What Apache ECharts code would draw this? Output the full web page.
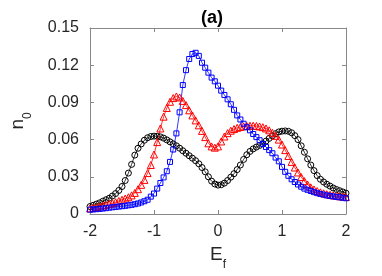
<!DOCTYPE html>
<html>
<head>
<meta charset="utf-8">
<script src="https://cdn.jsdelivr.net/npm/echarts@6/dist/echarts.min.js"></script>
<style>html,body{margin:0;padding:0;background:#fff}#c{width:382px;height:276px}</style>
</head>
<body>
<div id="c"></div>
<script>
const energies = [-2.00,-1.95,-1.90,-1.85,-1.80,-1.75,-1.70,-1.65,-1.60,-1.55,-1.50,-1.45,-1.40,-1.35,-1.30,-1.25,-1.20,-1.15,-1.10,-1.05,-1.00,-0.95,-0.90,-0.85,-0.80,-0.75,-0.70,-0.65,-0.60,-0.55,-0.50,-0.45,-0.40,-0.35,-0.30,-0.25,-0.20,-0.15,-0.10,-0.05,0.00,0.05,0.10,0.15,0.20,0.25,0.30,0.35,0.40,0.45,0.50,0.55,0.60,0.65,0.70,0.75,0.80,0.85,0.90,0.95,1.00,1.05,1.10,1.15,1.20,1.25,1.30,1.35,1.40,1.45,1.50,1.55,1.60,1.65,1.70,1.75,1.80,1.85,1.90,1.95,2.00];
const blackCircles = [0.0060,0.0070,0.0080,0.0090,0.0103,0.0115,0.0127,0.0145,0.0165,0.0190,0.0222,0.0270,0.0330,0.0400,0.0475,0.0530,0.0565,0.0595,0.0615,0.0625,0.0628,0.0627,0.0622,0.0612,0.0598,0.0582,0.0566,0.0550,0.0531,0.0510,0.0490,0.0470,0.0450,0.0430,0.0405,0.0375,0.0340,0.0300,0.0265,0.0242,0.0233,0.0236,0.0249,0.0270,0.0297,0.0325,0.0358,0.0395,0.0440,0.0478,0.0505,0.0525,0.0540,0.0553,0.0567,0.0588,0.0610,0.0630,0.0648,0.0662,0.0668,0.0670,0.0667,0.0655,0.0632,0.0600,0.0550,0.0498,0.0445,0.0395,0.0350,0.0310,0.0280,0.0258,0.0240,0.0225,0.0210,0.0198,0.0188,0.0178,0.0168];
const redTriangles = [0.0045,0.0050,0.0056,0.0062,0.0068,0.0073,0.0080,0.0087,0.0095,0.0105,0.0115,0.0125,0.0135,0.0150,0.0170,0.0200,0.0235,0.0275,0.0330,0.0395,0.0480,0.0580,0.0690,0.0785,0.0855,0.0905,0.0935,0.0948,0.0940,0.0912,0.0878,0.0836,0.0795,0.0755,0.0715,0.0670,0.0620,0.0570,0.0545,0.0535,0.0545,0.0585,0.0625,0.0652,0.0672,0.0685,0.0695,0.0702,0.0707,0.0710,0.0712,0.0712,0.0710,0.0706,0.0700,0.0690,0.0675,0.0655,0.0630,0.0600,0.0560,0.0515,0.0468,0.0420,0.0375,0.0335,0.0298,0.0265,0.0238,0.0215,0.0198,0.0185,0.0175,0.0167,0.0160,0.0155,0.0150,0.0147,0.0143,0.0140,0.0137];
const blueSquares = [0.0035,0.0037,0.0039,0.0041,0.0044,0.0047,0.0051,0.0054,0.0057,0.0060,0.0063,0.0066,0.0070,0.0074,0.0079,0.0085,0.0093,0.0103,0.0115,0.0140,0.0165,0.0205,0.0250,0.0295,0.0345,0.0420,0.0520,0.0650,0.0820,0.1040,0.1160,0.1250,0.1290,0.1300,0.1275,0.1220,0.1180,0.1140,0.1100,0.1070,0.1035,0.0995,0.0960,0.0925,0.0885,0.0840,0.0795,0.0762,0.0728,0.0700,0.0675,0.0645,0.0620,0.0595,0.0565,0.0540,0.0515,0.0490,0.0455,0.0425,0.0380,0.0340,0.0308,0.0280,0.0258,0.0238,0.0220,0.0205,0.0195,0.0185,0.0176,0.0168,0.0162,0.0156,0.0150,0.0146,0.0142,0.0138,0.0135,0.0131,0.0127];
const xTicks = {min: -2, max: 2, interval: 1};
const yTicks = {min: 0, max: 0.15, interval: 0.03};

const chart = echarts.init(document.getElementById('c'));
const font = 'Liberation Sans, Arial, Helvetica, sans-serif';
const axisCol = '#888888';
const txtCol = '#262626';
function pairs(ys){ return energies.map((x,i)=>[x, ys[i]]); }
function mk(name, data, color, symbol, size){
  return {
    name, type: 'line', data: pairs(data), symbol, symbolSize: size,
    xAxisIndex: 0, yAxisIndex: 0,
    lineStyle: {color, width: 0.8},
    itemStyle: {color: 'transparent', borderColor: color, borderWidth: 1},
    showSymbol: true, animation: false
  };
}
function baseAxis(){
  return {
    axisLine: {show: true, onZero: false, lineStyle: {color: axisCol, width: 1}},
    axisTick: {show: true, inside: true, length: 4, lineStyle: {color: axisCol}},
    splitLine: {show: false}
  };
}
chart.setOption({
  animation: false,
  title: {text: '(a)', left: 196, top: 4, textStyle: {fontFamily: font, fontSize: 18, fontWeight: 'bold', color: '#000'}},
  grid: {left: 81, right: 36, top: 28, bottom: 61, containLabel: false},
  xAxis: [
    Object.assign({type: 'value', position: 'bottom', min: xTicks.min, max: xTicks.max, interval: xTicks.interval,
      axisLabel: {fontFamily: font, fontSize: 16, color: txtCol, margin: 10},
      name: '{E|E}{f|f}', nameLocation: 'middle', nameGap: 31,
      nameTextStyle: {rich: {E: {fontFamily: font, fontSize: 19, color: txtCol, padding: [0,0,7,0]}, f: {fontFamily: font, fontSize: 12, color: txtCol, verticalAlign: 'bottom'}}}
    }, baseAxis()),
    Object.assign({type: 'value', position: 'top', min: xTicks.min, max: xTicks.max, interval: xTicks.interval, axisLabel: {show: false}}, baseAxis())
  ],
  yAxis: [
    Object.assign({type: 'value', position: 'left', min: yTicks.min, max: yTicks.max, interval: yTicks.interval,
      axisLabel: {fontFamily: font, fontSize: 16, color: txtCol, margin: 11, formatter: v => String(parseFloat(v.toFixed(2)))},
      name: '{n|n}{o|0}', nameLocation: 'middle', nameGap: 56, nameRotate: 90,
      nameTextStyle: {rich: {n: {fontFamily: font, fontSize: 19, color: txtCol, padding: [0,0,7,0]}, o: {fontFamily: font, fontSize: 12, color: txtCol, verticalAlign: 'bottom'}}}
    }, baseAxis()),
    Object.assign({type: 'value', position: 'right', min: yTicks.min, max: yTicks.max, interval: yTicks.interval, axisLabel: {show: false}}, baseAxis())
  ],
  series: [
    mk('black', blackCircles, '#000000', 'circle', 6),
    mk('red', redTriangles, '#ff0000', 'triangle', 7),
    mk('blue', blueSquares, '#0000ff', 'rect', 5)
  ]
});
</script>
</body>
</html>
